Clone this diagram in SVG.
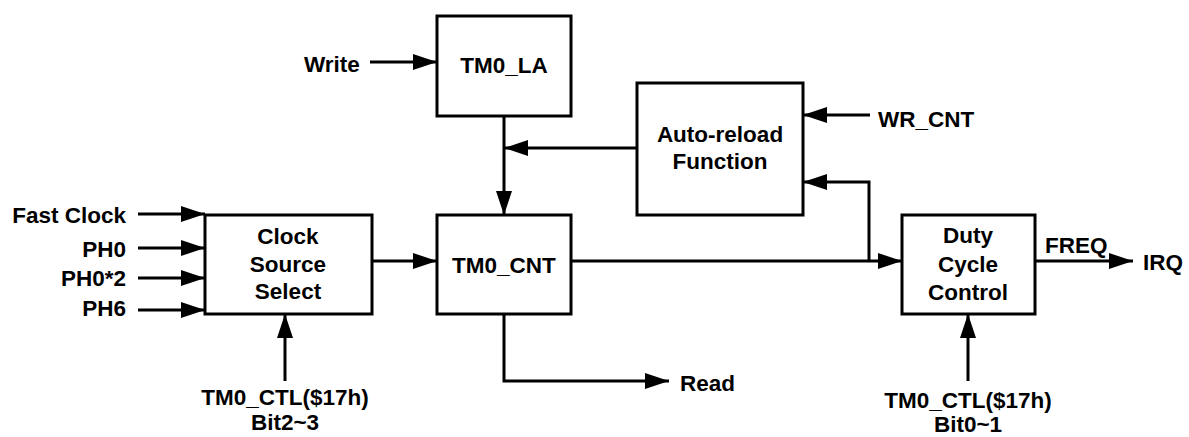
<svg xmlns="http://www.w3.org/2000/svg" width="1189" height="437" viewBox="0 0 1189 437">
<style>
  .box { fill: #ffffff; stroke: #000000; stroke-width: 3; }
  .wire { fill: none; stroke: #000000; stroke-width: 3; }
  .arr { marker-end: url(#ah); }
  text { font-family: "Liberation Sans", Arial, sans-serif; font-weight: bold; font-size: 22.5px; fill: #000000; }
  .c { text-anchor: middle; }
  .r { text-anchor: end; }
</style>
<defs>
  <marker id="ah" viewBox="0 0 24 16" refX="24" refY="8" markerWidth="24" markerHeight="16" markerUnits="userSpaceOnUse" orient="auto">
    <path d="M0,0 L24,8 L0,16 Z" fill="#000000"/>
  </marker>
</defs>
<rect width="1189" height="437" fill="#ffffff"/>
<g id="connectors">
  <path class="wire arr" d="M370,62 H437"/>
  <path class="wire arr" d="M138,214 H205"/>
  <path class="wire arr" d="M138,248 H205"/>
  <path class="wire arr" d="M138,278 H205"/>
  <path class="wire arr" d="M138,310 H205"/>
  <path class="wire arr" d="M372,261 H437"/>
  <path class="wire arr" d="M504,116 V215"/>
  <path class="wire arr" d="M637,148 H504"/>
  <path class="wire arr" d="M870,115 H803"/>
  <path class="wire arr" d="M571,261 H902"/>
  <path class="wire arr" d="M869,261 V182 H803"/>
  <path class="wire arr" d="M1035,261 H1133"/>
  <path class="wire arr" d="M285,381 V314"/>
  <path class="wire arr" d="M968,381 V314"/>
  <path class="wire arr" d="M504,314 V381 H669"/>
</g>
<g id="inputs">
  <text class="r" x="126" y="223">Fast Clock</text>
  <text class="r" x="126" y="257">PH0</text>
  <text class="r" x="126" y="286">PH0*2</text>
  <text class="r" x="126" y="316">PH6</text>
  <text x="304" y="72">Write</text>
  <text x="878" y="127">WR_CNT</text>
  <text x="680" y="391">Read</text>
  <text x="1045" y="253">FREQ</text>
  <text x="1143" y="270">IRQ</text>
  <text class="c" x="285" y="405">TM0_CTL($17h)</text>
  <text class="c" x="285" y="430">Bit2~3</text>
  <text class="c" x="968" y="408">TM0_CTL($17h)</text>
  <text class="c" x="968" y="432">Bit0~1</text>
</g>
<g id="clock-source-select">
  <rect class="box" x="205" y="215" width="167" height="99"/>
  <text class="c" x="288" y="244">Clock</text>
  <text class="c" x="288" y="272">Source</text>
  <text class="c" x="288" y="299">Select</text>
</g>
<g id="tm0-la">
  <rect class="box" x="437" y="16" width="134" height="100"/>
  <text class="c" x="504" y="73">TM0_LA</text>
</g>
<g id="tm0-cnt">
  <rect class="box" x="437" y="215" width="134" height="99"/>
  <text class="c" x="504" y="273">TM0_CNT</text>
</g>
<g id="auto-reload">
  <rect class="box" x="637" y="83" width="166" height="132"/>
  <text class="c" x="720" y="142">Auto-reload</text>
  <text class="c" x="720" y="169">Function</text>
</g>
<g id="duty-cycle-control">
  <rect class="box" x="902" y="215" width="133" height="99"/>
  <text class="c" x="968" y="243">Duty</text>
  <text class="c" x="968" y="272">Cycle</text>
  <text class="c" x="968" y="300">Control</text>
</g>
</svg>
